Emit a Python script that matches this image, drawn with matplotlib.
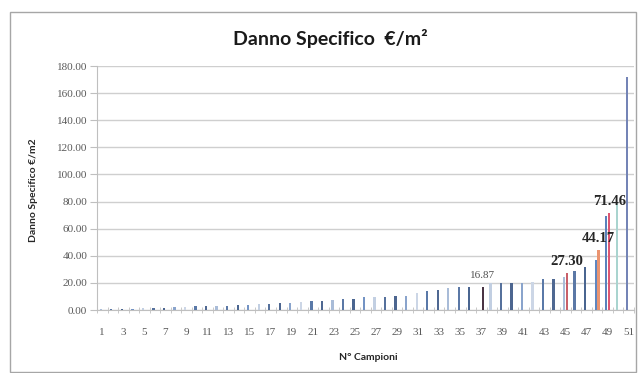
import matplotlib
matplotlib.use("Agg")
import matplotlib.pyplot as plt
from matplotlib.patches import Rectangle
import numpy as np

# data
campioni = list(range(1, 52))
danno = [0.5, 0.7, 0.9, 1.0, 1.2, 1.4, 1.6, 2.0, 2.3, 2.6,
         2.9, 3.1, 3.3, 3.6, 3.9, 4.2, 4.5, 5.0, 5.4, 5.8,
         6.3, 6.9, 7.4, 7.9, 8.1, 9.4, 9.8, 9.9, 10.3, 10.5,
         12.8, 14.3, 14.8, 16.0, 17.2, 17.2, 0.0, 19.7, 20.2, 20.2,
         20.2, 20.4, 22.6, 23.0, 24.4, 29.0, 32.0, 37.0, 69.5, 80.0,
         172.0]
evid_campioni = [37, 45, 48, 49]
evid_valori = [16.87, 27.30, 44.17, 71.46]
yticks = [0, 20, 40, 60, 80, 100, 120, 140, 160, 180]
xticks = list(range(1, 52, 2))

W, H, DPI = 638, 373, 100
fig = plt.figure(figsize=(W / DPI, H / DPI), dpi=DPI)
fig.patch.set_facecolor("white")

# outer chart border
fig.patches.append(Rectangle((10 / W, 1 - 372 / H), 626 / W, 360 / H,
                             transform=fig.transFigure, fill=False,
                             edgecolor="#a6a6a6", linewidth=1.0))

ax = fig.add_axes([97 / W, 1 - 310 / H, (634 - 97) / W, (310 - 66) / H])

blues = ["#a9bcd8", "#5b78a6", "#4a6590", "#7393c4", "#c2cfe2", "#56719c",
         "#4d6690", "#8aa4cc", "#ccd6e6", "#5a79a8", "#4f6892"]
colors1 = [blues[i % len(blues)] for i in range(len(campioni))]
colors1[47] = "#5f86c0"
colors1[48] = "#5a82bc"
colors1[49] = "#a9d4cf"
colors1[50] = "#7484b6"
colors2 = ["#4a3444", "#c9606a", "#ea9470", "#dc5672"]

x = np.array(campioni)
bw = 0.22
ax.bar(x - 0.14, danno, width=bw, color=colors1, zorder=3)
ax.bar(np.array(evid_campioni) + 0.14, evid_valori, width=bw,
       color=colors2, zorder=3)

for c, v in zip(evid_campioni, evid_valori):
    if v < 20:
        ax.annotate(f"{v:.2f}", (c + 0.14, v), xytext=(0, 8.5),
                    textcoords="offset points", ha="center", va="center",
                    family="Liberation Serif", fontsize=8, color="#505050",
                    zorder=5)
    else:
        ax.annotate(f"{v:.2f}", (c + 0.14, v), xytext=(0, 8.5),
                    textcoords="offset points", ha="center", va="center",
                    family="Liberation Serif", fontsize=10.5,
                    fontweight="bold", color="#262626", zorder=5)

ax.set_xlim(0.5, 51.5)
ax.set_ylim(0, 180)
ax.set_yticks(yticks)
ax.set_yticklabels([f"{v:.2f}" for v in yticks], family="Liberation Serif",
                   fontsize=8, color="#595959")
ax.set_xticks(xticks)
ax.set_xticklabels([str(v) for v in xticks], family="Liberation Serif",
                   fontsize=8, color="#595959")
ax.set_xticks(np.arange(0.5, 52, 1), minor=True)
ax.tick_params(axis="x", which="major", length=0, pad=13)
ax.tick_params(axis="x", which="minor", length=4, direction="inout",
               color="#bfbfbf")
ax.tick_params(axis="y", length=5, color="#bfbfbf", pad=2)

ax.grid(axis="y", color="#cfcfcf", linewidth=1.0, zorder=0)
for s in ["top", "right"]:
    ax.spines[s].set_visible(False)
ax.spines["left"].set_color("#bfbfbf")
ax.spines["bottom"].set_color("#bfbfbf")

fig.text(330 / W, 1 - 38 / H, "Danno Specifico  €/m²", ha="center",
         va="center", family="Lato", fontweight="bold", fontsize=14,
         color="#1a1a1a")
fig.text(33 / W, 1 - 190 / H, "Danno Specifico €/m2", ha="center",
         va="center", rotation=90, family="Lato", fontweight="bold",
         fontsize=7.5, color="#262626")
fig.text(368 / W, 1 - 357 / H, "N° Campioni", ha="center", va="center",
         family="Lato", fontweight="bold", fontsize=7.5, color="#262626")

fig.savefig("out.png", dpi=DPI)
